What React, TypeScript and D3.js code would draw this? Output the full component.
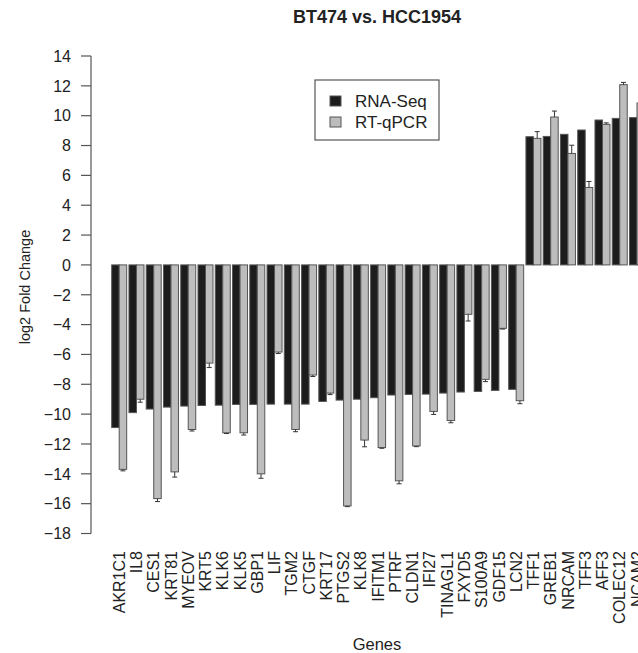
import React from "react";
import * as d3 from "d3";

const genes = ["AKR1C1","IL8","CES1","KRT81","MYEOV","KRT5","KLK6","KLK5","GBP1","LIF","TGM2","CTGF","KRT17","PTGS2","KLK8","IFITM1","PTRF","CLDN1","IFI27","TINAGL1","FXYD5","S100A9","GDF15","LCN2","TFF1","GREB1","NRCAM","TFF3","AFF3","COLEC12","NCAM2"];
const rnaSeq = [-10.9,-9.9,-9.66,-9.53,-9.46,-9.42,-9.4,-9.35,-9.35,-9.33,-9.33,-9.33,-9.15,-9.06,-9.0,-8.9,-8.72,-8.68,-8.66,-8.59,-8.52,-8.48,-8.41,-8.34,8.59,8.61,8.75,9.04,9.71,9.82,9.87];
const rtqPCR = [-13.7,-9.0,-15.66,-13.87,-11.03,-6.58,-11.25,-11.25,-14.0,-5.84,-11.03,-7.38,-8.59,-16.15,-11.74,-12.24,-14.47,-12.13,-9.82,-10.43,-3.31,-7.67,-4.25,-9.1,8.48,9.91,7.47,5.19,9.42,12.08,10.85];
const rtqPCRErr = [0.1,0.2,0.2,0.35,0.1,0.3,0.05,0.15,0.3,0.1,0.15,0.1,0.1,0.05,0.45,0.05,0.2,0.05,0.2,0.15,0.45,0.15,0.05,0.2,0.45,0.4,0.55,0.4,0.1,0.15,0.1];
const yTicks = [-18,-16,-14,-12,-10,-8,-6,-4,-2,0,2,4,6,8,10,12,14];
const seriesNames = ["RNA-Seq","RT-qPCR"];

const W = 638, H = 653;
const FONT = "'Liberation Sans', Arial, sans-serif";

export default function App() {
  const y = d3.scaleLinear().domain([-18, 14]).range([533.5, 56]);
  const step = 17.26, pIn = 0.131;
  const x = d3.scaleBand<string>().domain(genes)
    .range([111.7, 111.7 + step * (genes.length - pIn)])
    .paddingInner(pIn).paddingOuter(0);
  const xi = d3.scaleBand<string>().domain(seriesNames).range([0, x.bandwidth()]);
  const bw = xi.bandwidth();
  const y0 = y(0);
  const fills = ["#1c1c1c", "#bdbdbd"];
  const stroke = "#555";
  const fmt = d3.format("d");

  return (
    <svg width={W} height={H} style={{ position: "absolute", left: 0, top: 0, background: "#fff" }} fontFamily={FONT}>
      <text x={377} y={23} textAnchor="middle" fontWeight="bold" fontSize={18} fill="#222">BT474 vs. HCC1954</text>
      {/* y axis */}
      <line x1={91} x2={91} y1={y(-18)} y2={y(14)} stroke={stroke} strokeWidth={1.2} />
      {yTicks.map(t => (
        <g key={t}>
          <line x1={81} x2={91} y1={y(t)} y2={y(t)} stroke={stroke} strokeWidth={1.2} />
          <text x={71} y={y(t)} dy="0.36em" textAnchor="end" fontSize={16} fill="#222">{fmt(t)}</text>
        </g>
      ))}
      <text transform={`translate(30,287) rotate(-90)`} textAnchor="middle" fontSize={14.5} fill="#222">log2 Fold Change</text>
      {/* bars */}
      {genes.map((g, i) => {
        const gx = x(g)!;
        const vals = [rnaSeq[i], rtqPCR[i]];
        return (
          <g key={g}>
            {vals.map((v, k) => {
              const bx = gx + xi(seriesNames[k])!;
              const top = Math.min(y(v), y0);
              const h = Math.abs(y(v) - y0);
              return <rect key={k} x={bx} y={top} width={bw} height={h} fill={fills[k]} stroke={stroke} strokeWidth={1} />;
            })}
            {(() => {
              const v = rtqPCR[i];
              const e = rtqPCRErr[i];
              const cx = gx + xi(seriesNames[1])! + bw / 2;
              const end = v < 0 ? v - e : v + e;
              return (
                <g stroke="#333" strokeWidth={1}>
                  <line x1={cx} x2={cx} y1={y(v)} y2={y(end)} />
                  <line x1={cx - 2.5} x2={cx + 2.5} y1={y(end)} y2={y(end)} />
                </g>
              );
            })()}
            <text transform={`translate(${gx + x.bandwidth() / 2},551) rotate(-90)`} dy="0.35em" textAnchor="end" fontSize={16} fill="#222">{g}</text>
          </g>
        );
      })}
      {/* legend */}
      <rect x={315} y={80} width={124} height={60} fill="#fff" stroke={stroke} strokeWidth={1.2} />
      {seriesNames.map((s, k) => (
        <g key={s}>
          <rect x={330} y={96 + k * 21} width={11} height={10} fill={fills[k]} stroke={stroke} strokeWidth={1} />
          <text x={355} y={101 + k * 21} dy="0.36em" fontSize={17} fill="#222">{s}</text>
        </g>
      ))}
      <text x={377} y={650} textAnchor="middle" fontSize={16.5} fill="#222">Genes</text>
    </svg>
  );
}
